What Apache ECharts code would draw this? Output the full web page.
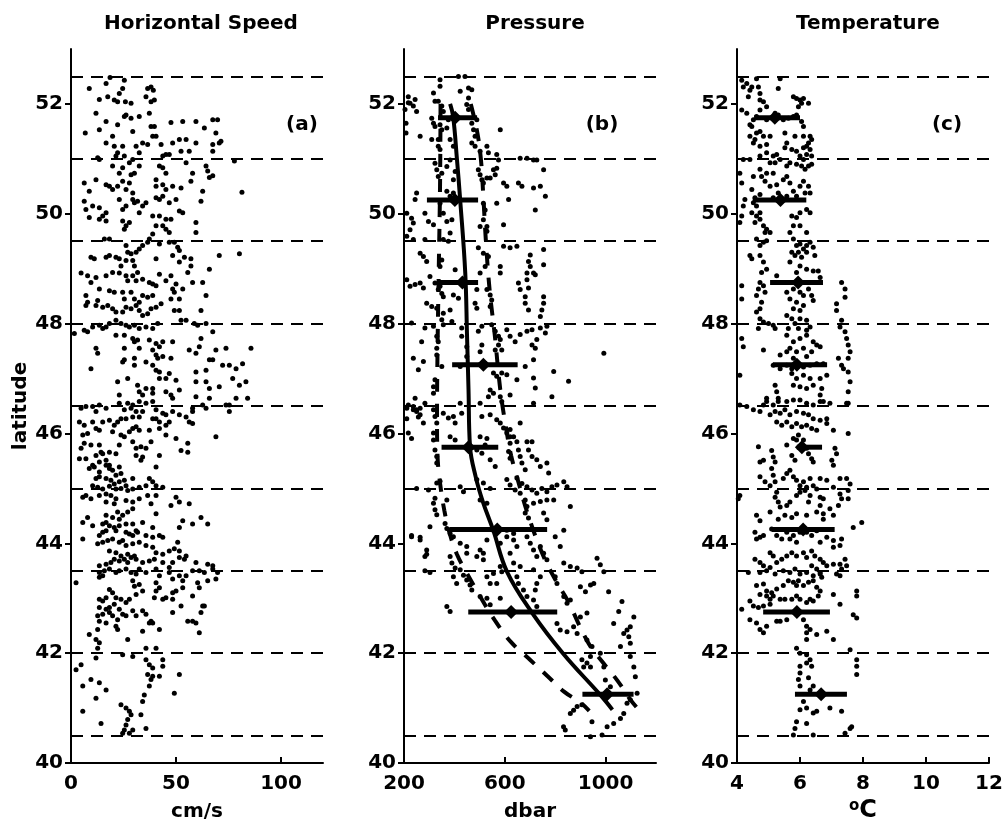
<!DOCTYPE html>
<html><head><meta charset="utf-8">
<script src="https://cdn.jsdelivr.net/npm/echarts@6/dist/echarts.min.js"></script>
<style>html,body{margin:0;padding:0;background:#fff}#c{width:1003px;height:828px}</style>
</head><body><div id="c"></div>
<script>
const latTicks=[40,42,44,46,48,50,52];
const dashLats=[40.5,42,43.5,45,46.5,48,49.5,51,52.5];
const speedTicks=[0,50,100];
const pressTicks=[200,600,1000];
const tempTicks=[4,6,8,10,12];
const panelTitles=['Horizontal Speed','Pressure','Temperature'];
const panelTags=['(a)','(b)','(c)'];

// Panel (a): [speed cm/s, latitude]
const speedPts=[
[8.7,52.28],[13.5,52.08],[16.7,52.37],[18.6,52.48],[17.5,52.13],[20.6,52.07],[22.2,52.04],[23.0,52.19],[24.6,52.28],[25.4,52.43],[25.9,52.04],[28.6,52.01],[35.7,52.13],[36.5,52.28],[38.1,52.31],[39.2,52.25],[38.1,52.04],[39.7,52.07],
[11.9,51.83],[6.8,51.47],[13.5,51.53],[16.7,51.68],[19.8,51.41],[22.2,51.62],[25.4,51.77],[26.2,51.80],[28.6,51.74],[29.4,51.50],[32.5,51.77],[37.3,51.83],[38.1,51.59],[39.7,51.59],[47.6,51.66],[53.2,51.68],[59.5,51.68],[63.5,51.56],[67.5,51.71],[69.8,51.71],[69.0,51.47],[71.4,51.32],
[16.7,51.29],[20.6,51.23],[22.2,51.11],[24.6,51.23],[31.0,51.23],[34.1,51.29],[36.5,51.26],[38.9,51.41],[40.5,51.41],[42.9,51.26],[45.2,51.08],[48.4,51.29],[51.6,51.35],[52.4,51.14],[54.8,51.35],[56.3,51.14],[59.5,51.29],[67.5,51.26],[67.5,51.14],[70.6,51.29],[12.7,51.02],[13.5,50.99],[21.4,51.05],[25.4,51.05],[29.4,50.99],[32.5,51.11],[43.7,51.05],[46.8,51.08],[77.8,50.96],
[19.8,50.87],[23.0,50.74],[24.6,50.84],[27.8,50.93],[28.6,50.71],[30.2,50.74],[32.5,50.87],[42.1,50.87],[43.7,50.84],[45.2,50.74],[40.5,50.62],[54.8,50.93],[57.9,50.74],[64.3,50.87],[65.1,50.78],[65.9,50.66],[57.1,50.59],[67.5,50.69],[6.3,50.56],[8.7,50.41],[11.9,50.62],[16.7,50.53],[18.3,50.50],[19.8,50.44],[22.2,50.50],[24.6,50.59],[26.2,50.44],[27.8,50.56],[29.4,50.38],[40.5,50.50],[43.7,50.53],[45.2,50.44],[48.4,50.50],[52.4,50.47],[62.7,50.41],[61.9,50.23],[81.4,50.39],
[6.3,50.23],[7.1,50.08],[8.7,49.93],[10.3,50.14],[13.5,50.11],[15.1,49.96],[16.7,50.02],[23.0,50.26],[24.6,50.08],[26.2,50.14],[29.4,50.26],[30.2,50.20],[31.7,50.23],[32.5,50.02],[34.1,50.14],[35.7,50.20],[40.5,50.29],[42.1,50.26],[43.7,50.32],[46.8,50.20],[50.0,50.26],[51.6,50.05],[53.2,50.02],[38.9,49.96],[42.1,49.96],[45.2,49.90],[47.6,49.90],
[13.5,49.90],[16.7,49.87],[24.6,49.87],[26.2,49.78],[27.8,49.84],[25.4,49.72],[40.5,49.78],[43.7,49.78],[45.2,49.72],[46.8,49.66],[59.5,49.84],[59.5,49.66],[38.9,49.63],[37.3,49.54],[18.3,49.54],[15.9,49.54],[42.1,49.45],[46.8,49.48],[49.2,49.48],[50.8,49.39],[51.6,49.33],
[26.2,49.42],[27.0,49.30],[28.6,49.27],[31.0,49.30],[32.5,49.36],[34.1,49.42],[36.5,49.48],[9.5,49.21],[11.1,49.18],[16.7,49.21],[18.3,49.24],[21.4,49.21],[23.0,49.18],[23.8,49.05],[26.2,49.15],[29.4,49.15],[30.2,49.05],[31.7,48.93],[40.5,49.18],[48.4,49.24],[51.6,49.12],[54.0,49.21],[57.1,49.18],[57.1,49.05],[55.6,48.93],[70.6,49.24],[80.2,49.27],[65.9,48.99],
[4.8,48.92],[7.9,48.87],[9.5,48.75],[11.9,48.84],[16.7,48.87],[19.8,48.93],[23.0,48.92],[26.2,48.87],[27.0,48.78],[29.4,48.87],[31.0,48.78],[34.1,48.81],[37.3,48.75],[38.9,48.72],[40.5,48.69],[42.1,48.90],[45.2,48.78],[47.6,48.87],[48.4,48.63],[50.0,48.72],[49.2,48.57],[53.2,48.63],[57.9,48.75],[62.7,48.75],[7.1,48.51],[7.9,48.39],[12.7,48.42],[13.5,48.63],[18.3,48.60],[20.6,48.57],[24.6,48.57],[25.4,48.45],[28.6,48.57],[30.2,48.45],[32.5,48.39],[34.1,48.51],[36.5,48.48],[38.9,48.51],[42.9,48.36],[47.6,48.45],[51.6,48.45],[64.3,48.51],
[7.1,48.33],[11.9,48.33],[15.1,48.30],[17.5,48.33],[19.8,48.27],[21.4,48.21],[24.6,48.21],[26.2,48.30],[28.6,48.27],[31.0,48.33],[32.5,48.24],[34.1,48.15],[36.5,48.18],[38.1,48.27],[40.5,48.30],[49.2,48.24],[51.6,48.24],[61.9,48.24],[6.3,47.88],[7.9,47.85],[10.3,47.94],[13.5,47.97],[15.1,47.91],[16.7,47.94],[18.3,48.00],[21.4,48.06],[23.8,48.00],[26.2,47.97],[27.8,47.94],[30.2,47.97],[32.5,47.91],[35.7,47.94],[38.9,47.91],[41.3,48.00],[52.4,48.06],[54.8,48.06],[58.7,48.00],[60.3,47.97],[64.3,48.00],[67.5,47.85],[1.6,47.82],
[21.4,47.79],[25.4,47.79],[29.4,47.73],[30.2,47.67],[31.7,47.70],[37.3,47.70],[40.5,47.64],[43.7,47.67],[48.4,47.67],[61.9,47.73],[11.9,47.55],[12.7,47.46],[25.4,47.55],[32.5,47.55],[38.9,47.52],[42.1,47.58],[40.5,47.43],[41.3,47.37],[43.7,47.40],[47.6,47.37],[56.3,47.52],[59.5,47.46],[61.1,47.58],[65.9,47.34],[69.0,47.52],[73.8,47.55],[85.7,47.55],[25.4,47.34],[30.2,47.37],
[9.5,47.18],[24.6,47.30],[30.2,47.24],[35.7,47.30],[38.9,47.24],[40.5,47.15],[42.1,47.12],[42.1,47.00],[45.2,47.00],[46.8,47.09],[50.0,46.97],[59.5,47.12],[64.3,47.15],[67.5,47.34],[72.2,47.24],[75.4,47.24],[78.6,47.18],[81.7,47.27],[59.5,46.94],[64.3,46.94],[77.0,47.00],[83.3,46.94],[80.2,46.88],[22.2,46.94],[27.0,47.00],[31.7,46.88],[32.5,46.76],[34.1,46.70],[35.7,46.82],[38.9,46.82],[38.9,46.73],[45.2,46.76],[47.6,46.70],[51.6,46.79],[48.4,46.64],[65.9,46.82],[70.6,46.85],[23.0,46.70],[59.5,46.67],[65.9,46.64],[73.8,46.52],[78.6,46.64],[84.1,46.64],
[4.8,46.46],[7.1,46.49],[10.3,46.49],[13.5,46.52],[16.7,46.46],[23.0,46.55],[27.0,46.55],[29.4,46.52],[32.5,46.58],[35.7,46.55],[38.9,46.58],[40.5,46.43],[25.4,46.43],[28.6,46.46],[31.0,46.40],[34.1,46.40],[11.9,46.40],[4.0,46.21],[6.3,46.15],[10.3,46.21],[11.9,46.09],[15.1,46.21],[18.3,46.24],[20.6,46.15],[22.2,46.21],[23.8,46.27],[26.2,46.27],[29.4,46.30],[32.5,46.30],[38.9,46.27],[40.5,46.27],[42.1,46.21],[43.7,46.37],[45.2,46.34],[46.8,46.21],[48.4,46.40],[51.6,46.34],[54.8,46.30],[57.9,46.40],[56.3,46.21],[57.9,46.46],[62.7,46.52],[64.3,46.46],[75.4,46.52],[75.4,46.40],
[5.6,45.97],[7.9,46.00],[13.5,46.06],[19.8,46.03],[23.8,45.97],[25.4,45.94],[27.8,46.03],[29.4,46.09],[31.0,46.12],[32.5,46.06],[37.3,46.06],[42.1,46.09],[45.2,46.15],[45.2,45.97],[50.0,45.91],[69.0,45.94],[57.9,46.18],
[4.8,45.73],[6.3,45.82],[9.5,45.79],[13.5,45.79],[14.3,45.66],[11.9,45.60],[15.1,45.63],[18.3,45.66],[21.4,45.63],[23.0,45.79],[29.4,45.85],[31.0,45.73],[33.3,45.76],[35.7,45.73],[38.1,45.85],[42.1,45.60],[52.4,45.69],[55.6,45.82],[55.6,45.66],[4.0,45.54],[7.1,45.54],[10.3,45.42],[13.5,45.48],[16.7,45.51],[18.3,45.42],[31.0,45.60],[34.1,45.57],[33.3,45.51],
[8.7,45.36],[11.1,45.39],[13.5,45.30],[16.7,45.42],[18.3,45.36],[19.8,45.33],[21.4,45.24],[23.0,45.39],[23.8,45.27],[40.5,45.39],[11.9,45.18],[13.5,45.21],[16.7,45.18],[19.0,45.15],[20.6,45.08],[23.0,45.12],[25.4,45.15],[26.2,45.05],[29.4,45.18],[37.3,45.18],[38.9,45.12],[10.3,45.05],[12.7,45.02],[15.1,44.99],[18.3,45.04],[21.4,44.99],[23.8,45.00],[27.0,44.96],[29.4,44.99],[32.5,45.02],[35.7,45.05],[40.5,45.05],[43.7,45.02],
[5.6,44.84],[7.1,44.87],[9.5,44.81],[13.5,44.87],[16.7,44.90],[19.0,44.87],[21.4,44.81],[16.7,44.75],[20.6,44.72],[26.2,44.78],[29.4,44.75],[32.5,44.81],[36.5,44.87],[40.5,44.87],[38.1,44.72],[50.0,44.84],[51.6,44.75],[56.3,44.72],[47.6,44.69],[22.2,44.57],[16.7,44.51],[19.8,44.47],[23.0,44.44],[24.6,44.51],[27.0,44.57],[29.4,44.63],[40.5,44.54],[5.6,44.38],[7.9,44.47],[10.3,44.32],[15.1,44.35],[16.7,44.38],[18.3,44.32],[20.6,44.29],[23.0,44.32],[26.2,44.35],[29.4,44.35],[34.1,44.38],[38.9,44.29],[51.6,44.29],[53.2,44.41],[57.9,44.35],[61.9,44.47],[65.1,44.35],
[13.5,44.14],[15.1,44.20],[16.7,44.23],[21.4,44.23],[26.2,44.20],[27.8,44.17],[29.4,44.14],[31.0,44.23],[31.7,44.20],[35.7,44.14],[38.9,44.11],[42.1,44.14],[43.7,44.11],[5.6,44.08],[12.7,43.99],[15.1,44.02],[17.5,44.05],[19.8,44.08],[23.0,44.02],[24.6,44.05],[26.2,43.96],[29.4,43.99],[32.5,44.02],[35.7,43.96],[38.9,43.93],[40.5,43.83],[43.7,43.80],[46.8,43.86],[49.2,43.90],[50.8,44.02],[51.6,43.86],[54.8,43.77],[18.3,43.86],[21.4,43.83],[23.8,43.77],[27.0,43.80],[30.2,43.77],
[13.5,43.59],[16.7,43.62],[19.0,43.65],[20.6,43.71],[23.0,43.68],[25.4,43.71],[27.0,43.65],[28.6,43.74],[31.0,43.71],[34.1,43.65],[37.3,43.68],[39.7,43.71],[43.7,43.65],[46.8,43.56],[48.4,43.65],[51.6,43.74],[54.0,43.71],[59.5,43.65],[65.1,43.62],[67.5,43.59],[13.5,43.47],[15.9,43.50],[18.3,43.53],[21.4,43.47],[23.0,43.50],[26.2,43.53],[28.6,43.47],[31.0,43.44],[32.5,43.53],[35.7,43.47],[40.5,43.53],[42.1,43.41],[46.8,43.47],[48.4,43.35],[51.6,43.41],[53.2,43.32],[54.8,43.41],[57.9,43.50],[61.1,43.50],[63.5,43.47],[67.5,43.53],[69.0,43.35],[69.8,43.47],[65.1,43.32],[60.3,43.28],
[2.4,43.28],[13.5,43.38],[15.1,43.41],[29.4,43.32],[32.5,43.25],[30.2,43.22],[40.5,43.28],[42.1,43.19],[50.0,43.13],[48.4,43.10],[53.2,43.19],[57.9,43.04],[61.1,43.19],[18.3,43.16],[19.8,43.10],[13.5,42.98],[15.1,42.95],[16.7,43.01],[21.4,43.01],[23.8,42.98],[26.2,42.92],[27.8,42.98],[31.0,43.07],[34.1,43.13],[40.5,43.13],[39.7,43.01],[43.7,42.98],[45.2,43.01],[48.4,42.98],[52.4,42.86],[62.7,42.86],[13.5,42.83],[16.7,42.80],[18.3,42.83],[20.6,42.89],[23.0,42.80],
[12.7,42.68],[15.1,42.71],[18.3,42.74],[19.8,42.68],[22.2,42.61],[24.6,42.71],[26.2,42.68],[29.4,42.77],[31.0,42.68],[34.1,42.77],[35.7,42.71],[37.3,42.55],[38.1,42.58],[38.9,42.55],[42.1,42.43],[48.4,42.74],[55.6,42.58],[57.9,42.58],[59.5,42.55],[61.9,42.74],[63.5,42.86],[61.1,42.37],[13.5,42.58],[16.7,42.55],[21.4,42.49],[22.2,42.43],[27.0,42.25],[34.1,42.40],
[8.7,42.34],[12.7,42.43],[11.9,42.25],[13.5,42.19],[12.7,42.09],[11.9,41.91],[24.6,41.97],[29.4,41.94],[35.7,42.09],[40.5,42.09],
[2.4,41.70],[4.8,41.79],[5.6,41.40],[9.5,41.52],[13.5,41.46],[16.7,41.33],[35.7,41.88],[37.3,41.79],[38.9,41.73],[36.5,41.61],[38.9,41.58],[42.1,41.58],[43.7,41.88],[43.7,41.76],[38.1,41.52],[37.3,41.40],[51.6,41.61],
[11.9,41.18],[49.2,41.27],[34.9,41.24],[34.1,41.12],[33.3,40.88],
[5.6,40.94],[14.3,40.72],[23.8,41.06],[26.2,41.00],[27.8,40.94],[28.6,40.88],[27.0,40.79],[26.2,40.69],[25.4,40.60],[24.6,40.54],[27.8,40.54],[29.4,40.60],[35.7,40.63]
];

// Panel (b): [pressure dbar, latitude]
const pressPts=[
[343,52.44],[343,52.32],[416,52.50],[442,52.50],[423,52.23],[456,52.29],[469,52.26],[456,52.11],[317,52.20],[323,52.05],[336,52.05],[350,51.96],[356,51.86],[244,52.08],[237,51.96],[250,51.86],[217,52.02],[204,51.90],[264,51.41],[310,51.74],[317,51.65],[323,51.59],[343,51.62],[350,51.53],[370,51.56],[376,51.71],[336,51.35],[336,51.23],[343,51.17],[310,51.35],[383,51.35],[396,51.23],[449,51.99],[456,51.90],[469,51.65],[476,51.53],[482,51.41],[489,51.71],[582,51.53],[469,51.29],[482,51.23],[502,51.14],[529,51.23],[535,51.11],[568,51.08],[575,50.98],[661,51.01],[688,51.01],[714,50.98],[727,50.98],[754,50.80],[555,50.80],[568,50.83],
[323,50.92],[330,50.80],[336,50.68],[350,50.74],[370,50.86],[383,50.98],[403,50.77],[396,50.62],[495,50.80],[502,50.71],[509,50.62],[515,50.56],[529,50.65],[542,50.65],[562,50.71],[595,50.56],[608,50.50],[654,50.56],[668,50.50],[714,50.47],[741,50.50],[761,50.32],[568,50.19],[615,50.26],[721,50.07],[250,50.38],[244,50.26],[211,50.01],[230,49.92],[237,49.83],[224,49.71],[283,50.01],[297,49.86],[317,49.80],[343,50.19],[370,50.41],[383,50.32],[396,50.38],[356,50.01],[370,49.86],[390,49.89],[383,49.65],[515,50.19],[522,50.07],[515,49.89],[529,49.77],[529,49.68],[502,49.77],[595,49.80],
[211,49.59],[237,49.53],[283,49.53],[356,49.53],[376,49.50],[264,49.28],[277,49.22],[290,49.13],[350,49.16],[343,49.04],[403,48.98],[495,49.38],[515,49.28],[535,49.22],[522,49.04],[582,49.04],[502,48.92],[595,49.41],[621,49.38],[648,49.41],[701,49.25],[694,49.13],[701,49.04],[754,49.35],[754,49.07],[688,48.92],[714,48.92],
[211,48.80],[224,48.68],[244,48.71],[264,48.74],[277,48.65],[303,48.86],[323,48.74],[336,48.62],[290,48.37],[310,48.31],[330,48.28],[356,48.19],[383,48.25],[396,48.52],[416,48.46],[343,48.68],[350,48.55],[356,48.49],[482,48.37],[489,48.28],[529,48.62],[542,48.52],[548,48.43],[542,48.31],[489,48.62],[582,48.92],[654,48.74],[661,48.62],[681,48.49],[681,48.37],[694,48.25],[694,48.65],[688,48.80],[721,48.89],[754,48.49],[754,48.37],[747,48.25],[741,48.13],[767,47.95],[761,47.83],
[230,48.01],[283,47.92],[270,47.67],[350,48.07],[317,47.95],[390,48.04],[356,47.98],[330,47.77],[336,47.67],[330,47.55],[330,47.43],[429,47.92],[429,47.77],[449,47.58],[509,47.95],[495,47.86],[509,47.61],[502,47.49],[548,47.98],[562,47.86],[575,47.77],[575,47.61],[588,47.52],[562,47.52],[582,47.71],[608,47.89],[621,47.77],[641,47.67],[661,47.80],[688,47.86],[708,47.89],[741,47.92],[727,47.71],[708,47.61],[721,47.55],[993,47.46],
[237,47.37],[277,47.31],[257,47.16],[350,47.22],[323,46.98],[317,46.85],[317,46.73],[423,47.22],[449,47.40],[502,47.25],[522,47.28],[555,47.10],[568,47.04],[588,47.10],[608,47.07],[648,46.98],[681,47.22],[714,47.01],[721,46.83],[794,47.13],[853,46.95],[714,47.34],[542,46.79],[535,46.67],[555,46.73],[582,46.67],[588,46.58],[621,46.70],[787,46.67],
[244,46.64],[283,46.55],[211,46.46],[237,46.43],[250,46.40],[264,46.34],[277,46.19],[317,46.43],[323,46.31],[330,46.19],[356,46.37],[376,46.28],[396,46.31],[403,46.19],[423,46.55],[429,46.37],[502,46.55],[509,46.31],[542,46.34],[568,46.25],[582,46.19],[595,46.10],[608,46.01],[621,46.07],[635,45.94],[661,46.19],[714,46.55],
[217,46.01],[230,45.91],[317,46.01],[317,45.88],[323,45.70],[330,45.58],[330,45.46],[383,45.94],[403,45.88],[502,45.94],[529,45.91],[522,45.79],[489,45.70],[509,45.64],[542,45.52],[562,45.40],[621,45.94],[621,45.82],[615,45.67],[621,45.55],[648,45.85],[654,45.70],[661,45.58],[668,45.46],[681,45.34],[694,45.70],[708,45.58],[727,45.52],[741,45.40],[767,45.46],[774,45.28],[688,45.85],[708,45.85],
[250,45.00],[297,44.97],[330,45.10],[343,45.13],[323,44.82],[370,44.79],[423,45.03],[436,44.94],[489,45.16],[515,45.10],[542,45.00],[502,44.79],[529,44.73],[608,45.16],[621,45.06],[641,44.97],[661,44.91],[681,44.79],[648,45.19],[668,45.09],[688,45.03],[708,44.97],[727,44.91],[747,45.00],[767,44.94],[787,45.03],[807,45.06],[834,45.12],[847,45.03],[794,44.79],[767,44.79],[741,44.76],[714,44.73],[860,44.67],
[317,44.73],[323,44.61],[330,44.52],[363,44.36],[370,44.27],[383,44.18],[396,44.12],[230,44.12],[264,44.06],[303,44.30],[283,43.76],[290,43.88],[383,43.76],[390,43.64],[403,43.55],[423,43.52],[436,43.42],[449,43.33],[462,43.24],[469,43.15],[396,43.39],[409,43.27],[370,42.85],[383,42.76],[449,43.94],[502,43.88],[515,43.70],[529,43.39],[542,43.27],[555,43.45],[582,43.58],[588,43.48],[568,43.27],[582,43.00],[502,43.03],[529,43.00],[542,42.88],[608,44.12],[635,44.06],[648,43.94],[621,43.82],[688,44.12],[701,44.00],[714,43.88],[727,43.76],[741,43.94],[754,43.82],[767,43.70],[681,44.55],[694,44.46],[688,44.67],[754,44.55],[767,44.43],[800,44.12],[834,44.24],[820,43.94],[635,43.64],[661,43.58],[648,43.39],[714,43.52],[741,43.39],[727,43.27],[721,43.15],[834,43.64],[860,43.58],[887,43.55],[906,43.48],[800,43.39],[807,43.27],[834,43.03],[847,42.91],[860,42.97],[900,43.21],[920,43.12],[940,43.24],[953,43.27],[966,43.73],[979,43.61],[993,43.48],[1012,43.12],[1065,42.94],[1052,42.76],[1112,42.66],[1098,42.48],[1085,42.42],[1072,42.36],[1092,42.30],[1098,42.18],[1032,42.54],[807,42.54],[820,42.42],[847,42.39],[873,42.48],[887,42.36],[900,42.66],[926,42.73],[926,42.24],[946,42.12],[940,41.94],[926,41.82],[906,41.88],[913,41.75],[940,41.75],[979,42.00],[993,41.75],[1059,42.12],[1098,41.94],[1112,41.75],[1118,41.57],[999,41.51],[1019,41.39],[423,44.00],[449,43.82],[489,43.76],[515,43.82],[529,44.06],[582,44.00],[608,44.24],[635,44.18],[555,44.24],[654,43.27],[674,43.15],[688,43.03],[714,42.97],[727,42.85],
[833,40.66],[840,40.60],[860,40.90],[873,40.96],[887,41.03],[906,41.06],[946,40.75],[1006,40.66],[1032,40.72],[1059,40.81],[1072,40.90],[1085,41.09],[1098,41.15],[986,40.51],[940,40.48],[1125,41.27],
[230,44.14],[264,44.11],[290,43.80],[303,43.47],[283,43.50],[217,46.52],[237,46.49],[250,46.43],[264,46.46],[257,46.30],[211,46.27],[208,51.65],[208,51.47],[224,52.01],[217,52.13]
];

// Panel (c): [temperature degC, latitude]
const tempPts=[
[4.15,52.43],[4.20,52.31],[4.31,52.37],[4.41,52.25],[4.36,52.13],[4.47,52.31],[4.62,52.46],[4.68,52.31],[4.73,52.19],[4.73,52.07],[4.84,52.04],[4.94,51.95],[5.37,52.46],[5.31,52.28],[5.79,52.13],[5.89,52.10],[6.0,52.07],[6.11,52.10],[6.27,52.01],[6.05,52.01],[5.95,51.95],
[4.15,51.89],[4.31,51.83],[4.62,51.77],[4.73,51.89],[4.41,51.62],[4.47,51.59],[4.52,51.71],[4.94,51.71],[5.21,51.83],[5.31,51.80],[5.47,51.71],[5.63,51.74],[5.79,51.77],[5.89,51.80],[6.05,51.68],[6.11,51.59],[4.41,51.41],[4.57,51.35],[4.62,51.47],[4.73,51.50],[4.84,51.41],[4.52,51.29],[5.05,51.41],[5.52,51.47],[5.84,51.41],[6.11,51.41],[6.32,51.41],[6.27,51.29],[6.37,51.35],
[4.73,51.23],[4.94,51.26],[5.58,51.29],[5.52,51.20],[5.74,51.17],[5.89,51.14],[6.11,51.20],[6.21,51.23],[6.32,51.17],[6.21,51.08],[6.0,51.05],[6.37,51.05],[6.11,50.99],[4.20,50.99],[4.41,50.99],[4.73,51.05],[4.94,51.11],[5.15,51.05],[5.26,51.08],[5.05,50.93],[5.21,50.93],[5.37,50.99],[5.58,50.87],[5.68,50.93],[5.89,50.90],[6.05,50.87],[6.16,50.81],[6.27,50.87],[6.37,50.90],
[4.09,50.74],[4.15,50.56],[4.25,50.26],[4.52,50.68],[4.73,50.81],[4.78,50.68],[4.94,50.74],[5.15,50.74],[4.89,50.59],[5.05,50.50],[5.26,50.53],[5.47,50.62],[5.58,50.68],[5.68,50.56],[5.79,50.41],[6.0,50.50],[6.11,50.59],[6.16,50.38],[6.27,50.50],[6.32,50.38],[5.31,50.38],[5.15,50.29],[4.47,50.44],[4.57,50.29],[4.73,50.35],[5.58,50.32],[5.89,50.32],
[4.52,50.20],[4.62,50.14],[4.73,50.02],[4.47,50.02],[4.62,49.96],[4.57,49.84],[4.73,49.90],[4.84,49.78],[4.94,49.72],[5.05,49.66],[4.89,49.66],[4.20,50.14],[4.15,49.96],[4.09,49.84],[5.74,49.96],[5.89,49.93],[6.0,50.02],[6.21,50.08],[6.32,50.02],[6.0,49.78],[5.79,49.78],[5.68,49.66],[6.21,49.66],
[4.62,49.54],[4.73,49.42],[4.84,49.48],[4.94,49.51],[4.73,49.24],[4.84,49.12],[4.94,48.99],[4.78,48.93],[4.41,49.24],[4.47,49.18],[5.79,49.54],[5.89,49.42],[6.0,49.45],[6.11,49.36],[6.21,49.42],[6.32,49.48],[6.42,49.39],[5.74,49.30],[5.84,49.24],[5.95,49.30],[6.05,49.21],[6.21,49.30],[6.47,49.24],[5.68,49.12],[6.0,49.05],[6.21,48.99],[6.42,48.96],[5.89,48.93],[6.58,48.96],[6.64,48.84],
[4.15,48.69],[4.15,48.45],[4.62,48.51],[4.68,48.63],[4.73,48.75],[4.84,48.69],[4.89,48.57],[4.78,48.39],[4.73,48.27],[4.62,48.21],[5.26,48.87],[5.37,48.75],[5.58,48.57],[5.68,48.45],[5.79,48.63],[5.89,48.39],[6.0,48.57],[6.11,48.51],[6.27,48.63],[6.37,48.51],[6.42,48.42],[6.11,48.33],[5.79,48.27],[6.0,48.24],[7.32,48.75],[7.43,48.63],[7.43,48.48],[7.16,48.36],[7.16,48.24],
[4.73,48.09],[4.84,48.03],[5.0,48.00],[5.15,47.97],[5.21,47.91],[4.68,47.91],[5.58,48.15],[5.74,48.09],[5.84,48.00],[6.0,48.09],[6.21,48.06],[6.32,47.94],[5.63,47.91],[5.95,47.91],[6.21,47.88],[7.32,48.06],[7.27,47.94],[7.43,47.85],[7.48,47.73],
[4.15,47.73],[4.20,47.58],[4.84,47.52],[5.58,47.79],[5.79,47.67],[6.0,47.73],[6.21,47.79],[6.42,47.67],[6.53,47.61],[6.64,47.58],[5.68,47.55],[5.89,47.49],[6.11,47.55],[6.37,47.49],[6.21,47.40],[5.79,47.37],[5.37,47.43],[5.58,47.49],[7.53,47.61],[7.59,47.49],[7.53,47.37],[7.22,47.37],[7.32,47.24],[7.38,47.18],
[4.09,47.06],[5.15,47.24],[5.37,47.18],[5.58,47.24],[5.74,47.18],[5.89,47.27],[6.11,47.21],[6.32,47.24],[6.53,47.27],[6.74,47.27],[5.74,47.09],[5.89,47.00],[6.11,47.06],[6.32,47.00],[5.79,46.88],[6.0,46.85],[6.21,46.82],[6.42,46.88],[6.64,47.00],[6.85,47.06],[6.69,46.82],[6.64,46.70],[6.74,46.58],[7.53,47.12],[7.59,46.94],[7.53,46.76],[7.53,46.55],[5.21,46.88],[5.26,46.76],[4.94,46.64],[5.31,46.64],
[4.09,46.52],[4.31,46.49],[4.52,46.43],[4.73,46.40],[4.84,46.52],[4.94,46.58],[5.15,46.52],[5.31,46.58],[5.58,46.58],[5.79,46.61],[6.0,46.61],[6.21,46.55],[6.42,46.52],[6.64,46.58],[6.95,46.55],[7.48,46.55],[5.05,46.34],[5.21,46.40],[5.37,46.37],[5.52,46.43],[5.68,46.34],[5.89,46.40],[6.11,46.37],[6.27,46.34],[6.42,46.27],[6.64,46.24],[6.85,46.27],[5.26,46.21],[5.42,46.15],[5.58,46.21],[5.74,46.12],[5.89,46.18],[6.05,46.12],[6.21,46.15],[6.37,46.09],[6.53,46.06],[6.85,46.18],
[4.68,45.76],[5.10,45.69],[5.15,45.57],[5.21,45.48],[5.10,45.36],[5.15,45.24],[5.21,45.12],[5.58,45.79],[5.74,45.60],[5.84,45.51],[5.79,45.91],[5.95,45.97],[5.89,45.88],[6.11,45.88],[6.21,45.73],[6.27,45.63],[6.37,45.54],[6.42,45.48],[7.06,46.06],[7.11,45.73],[7.16,45.63],[7.01,45.51],[7.06,45.42],[7.53,46.00],[4.73,45.48],[4.84,45.51],
[4.73,45.21],[4.89,45.12],[5.05,45.05],[5.47,45.18],[5.58,45.27],[5.68,45.33],[5.79,45.21],[5.89,45.15],[6.0,45.05],[6.11,45.12],[6.21,45.02],[6.32,45.18],[6.42,45.05],[6.53,44.99],[6.64,45.18],[6.85,45.15],[7.06,45.02],[7.27,45.18],[7.48,45.18],[7.59,45.08],[7.53,44.96],[7.53,44.81],[4.09,44.87],[5.26,44.93],[5.21,44.84],[5.31,44.75],[5.37,44.66],[5.58,44.69],[5.68,44.75],[5.89,44.87],[6.0,44.93],[6.16,44.96],[6.32,44.87],[6.64,44.84],[6.74,44.81],[6.64,44.69],[7.27,44.90],[7.32,44.81],[7.22,44.69],[6.27,44.75],[6.95,44.63],
[4.62,44.51],[4.73,44.41],[5.05,44.57],[5.31,44.44],[5.52,44.51],[5.74,44.47],[5.89,44.54],[6.21,44.51],[6.53,44.57],[6.74,44.54],[6.74,44.44],[7.06,44.51],[7.96,44.38],[7.69,44.29],[4.57,44.20],[4.62,44.08],[4.73,44.11],[4.84,44.14],[5.10,44.26],[5.26,44.14],[5.42,44.08],[5.58,44.20],[5.68,44.08],[5.79,44.14],[5.89,44.02],[6.0,44.20],[6.21,44.20],[6.37,44.14],[6.53,44.23],[6.64,44.02],[6.85,44.11],[7.06,44.05],[7.32,44.08],[7.27,43.96],[7.06,43.93],
[4.57,43.71],[4.73,43.65],[4.84,43.59],[5.05,43.83],[5.15,43.77],[5.26,43.65],[5.42,43.71],[5.58,43.77],[5.74,43.83],[5.89,43.77],[6.11,43.83],[6.21,43.74],[6.37,43.86],[6.47,43.77],[6.64,43.71],[6.74,43.65],[6.37,43.59],[6.53,43.53],[6.64,43.47],[6.85,43.59],[7.06,43.62],[7.27,43.62],[7.43,43.71],[7.48,43.59],[7.32,43.53],[4.73,43.47],[4.94,43.50],[5.05,43.56],[5.21,43.44],[5.47,43.50],[5.68,43.47],[5.84,43.53],[6.0,43.44],[6.21,43.47],[6.42,43.41],[6.64,43.44],[6.69,43.38],[7.16,43.44],[7.27,43.41],[4.36,43.47],[4.04,44.81],
[4.62,43.23],[4.84,43.26],[4.94,43.13],[5.10,43.10],[5.26,43.17],[5.47,43.23],[5.63,43.32],[5.79,43.29],[5.89,43.23],[5.95,43.32],[6.11,43.23],[6.27,43.29],[6.42,43.32],[6.53,43.20],[6.64,43.13],[6.58,43.04],[6.42,42.95],[6.32,42.98],[6.21,42.92],[4.73,43.07],[4.94,43.04],[5.05,42.98],[5.15,43.04],[5.37,42.98],[5.52,42.98],[5.74,42.98],[5.89,43.04],[6.0,42.98],[7.06,43.07],[7.27,42.89],[7.80,43.13],[7.80,43.04],
[4.15,42.80],[4.41,42.95],[4.52,42.86],[4.68,42.83],[4.84,42.86],[5.05,42.89],[4.41,42.61],[4.62,42.55],[4.73,42.43],[4.84,42.37],[4.94,42.49],[5.26,42.58],[5.37,42.58],[5.58,42.61],[6.11,42.61],[6.21,42.49],[6.21,42.37],[6.32,42.43],[6.21,42.25],[6.53,42.34],[6.85,42.40],[7.06,42.25],[7.69,42.70],[7.80,42.64],
[5.89,42.09],[6.0,42.0],[6.21,41.97],[6.32,41.88],[6.21,41.82],[6.37,41.76],[6.0,41.76],[6.0,41.64],[6.27,41.55],[5.95,41.52],[6.0,41.40],[6.42,41.40],[6.32,41.33],[7.59,42.06],[7.80,41.88],[7.80,41.76],[7.80,41.61],[6.11,41.12],[6.0,40.97],[6.21,41.00],[6.42,40.91],[6.53,40.94],[6.95,41.00],[7.32,40.94],[6.21,40.72],[5.89,40.75],[5.84,40.63],[5.79,40.51],[6.42,40.51],[7.43,40.54],[7.59,40.63],[7.64,40.66]
];

// Panel (b) fitted curves [pressure, latitude]
const fitMean=[[383,52],[395,51.77],[410,51],[423,50.25],[443,48.93],[450,47.8],[456,46.8],[462,45.76],[485,45.2],[512,44.77],[554,44.24],[609,43.48],[709,42.73],[832,41.99],[979,41.24],[1027,40.97]];
const fitLow=[[345,52],[343,50.5],[338,49],[333,47.5],[331,46.3],[333,45.6],[343,45.1],[360,44.6],[380,44.2],[410,43.8],[450,43.45],[500,43.05],[560,42.6],[625,42.2],[700,41.88],[770,41.58],[835,41.3],[900,41.1],[935,40.95]];
const fitHigh=[[465,52],[490,51.5],[505,51],[515,50.3],[525,49.5],[540,48.6],[560,47.8],[582,46.8],[605,46.1],[625,45.6],[655,45.1],[690,44.55],[750,43.8],[805,43.3],[848,42.97],[931,42.19],[991,41.82],[1047,41.5],[1099,41.15],[1126,41.0]];

// Binned means with horizontal spread bars
const barLats=[51.75,50.25,48.75,47.25,45.75,44.25,42.75,41.25];
const pressLo=[335,291,335,391,349,380,455,908];
const pressHi=[490,494,494,651,574,768,808,1111];
const pressMid=[403,402,432,515,456,570,625,1006];
const tempLo=[4.55,4.5,5.05,5.14,5.9,5.1,4.83,5.84];
const tempHi=[6.0,6.2,6.73,6.86,6.7,7.1,6.95,7.49];
const tempMid=[5.2,5.38,5.94,5.9,6.06,6.1,5.9,6.67];

const FONT='DejaVu Sans';
const txt=(size)=>({fontFamily:FONT,fontWeight:'bold',fontSize:size,color:'#000'});
const grids=[71,404,737].map(l=>({left:l,top:49,width:252,height:714,outerBoundsMode:'none',containLabel:false}));
const plain=v=>String(v);

function xAx(g,min,max,ticks,name,extra){
  return Object.assign({type:'value',gridIndex:g,min:min,max:max,
    axisLine:{show:true,onZero:false,lineStyle:{color:'#000',width:2}},
    axisTick:{show:true,inside:true,length:6,lineStyle:{color:'#000',width:2},customValues:ticks},
    axisLabel:Object.assign({customValues:ticks,margin:11,formatter:plain},txt(20)),
    splitLine:{show:false},name:name,nameLocation:'middle',nameGap:39,nameTextStyle:txt(20)},extra||{});
}
function yAx(g,name){
  return {type:'value',gridIndex:g,min:40,max:53,
    axisLine:{show:true,onZero:false,lineStyle:{color:'#000',width:2}},
    axisTick:{show:true,inside:false,length:6,lineStyle:{color:'#000',width:2},customValues:latTicks},
    axisLabel:Object.assign({customValues:latTicks,margin:8,formatter:plain},txt(20)),
    splitLine:{show:false},name:name||'',nameLocation:'middle',nameGap:36,nameTextStyle:txt(20)};
}
const dashMark={silent:true,symbol:['none','none'],label:{show:false},
  lineStyle:{color:'#000',width:1.8,type:[12,8],opacity:1},data:dashLats.map(v=>({yAxis:v}))};
function scatter(g,pts){
  return {type:'scatter',xAxisIndex:g,yAxisIndex:g,data:pts,symbolSize:5,
    itemStyle:{color:'#000',opacity:1},markLine:dashMark,z:2};
}
function barRender(params,api){
  const a=api.coord([api.value(0),api.value(2)]);
  const b=api.coord([api.value(1),api.value(2)]);
  return {type:'line',shape:{x1:a[0],y1:a[1],x2:b[0],y2:b[1]},style:{stroke:'#000',lineWidth:5}};
}
function bars(g,lo,hi){
  return {type:'custom',xAxisIndex:g,yAxisIndex:g,renderItem:barRender,
    encode:{x:[0,1],y:2},data:barLats.map((l,i)=>[lo[i],hi[i],l]),z:5};
}
function mids(g,mid){
  return {type:'scatter',xAxisIndex:g,yAxisIndex:g,symbol:'diamond',symbolSize:14,
    itemStyle:{color:'#000',opacity:1},data:barLats.map((l,i)=>[mid[i],l]),z:6};
}
function curve(pts,dashed){
  return {type:'line',xAxisIndex:1,yAxisIndex:1,data:pts,smooth:0.4,showSymbol:false,symbol:'none',
    lineStyle:{color:'#000',width:4,type:dashed?[13,12]:'solid'},z:4};
}

const titles=[];
[196,530,863].forEach((x,i)=>titles.push({text:panelTitles[i],left:x,top:9,textAlign:'center',textStyle:txt(20)}));
[297,597,942].forEach((x,i)=>titles.push({text:panelTags[i],left:x,top:110,textAlign:'center',textStyle:txt(20)}));

const chart=echarts.init(document.getElementById('c'),null,{renderer:'canvas'});
chart.setOption({
  animation:false,backgroundColor:'#fff',
  title:titles,
  grid:grids,
  xAxis:[
    xAx(0,0,120,speedTicks,'cm/s'),
    xAx(1,200,1200,pressTicks,'dbar'),
    xAx(2,4,12,tempTicks,'{o|o}{c|C}',{nameGap:33,nameTextStyle:Object.assign(txt(24),{rich:{o:Object.assign(txt(15),{verticalAlign:'top',padding:[0,0,8,0]}),c:txt(24)}})})
  ],
  yAxis:[yAx(0,'latitude'),yAx(1),yAx(2)],
  series:[
    scatter(0,speedPts),
    scatter(1,pressPts),
    scatter(2,tempPts),
    curve(fitMean,false),curve(fitLow,true),curve(fitHigh,true),
    bars(1,pressLo,pressHi),mids(1,pressMid),
    bars(2,tempLo,tempHi),mids(2,tempMid)
  ]
});
</script></body></html>
